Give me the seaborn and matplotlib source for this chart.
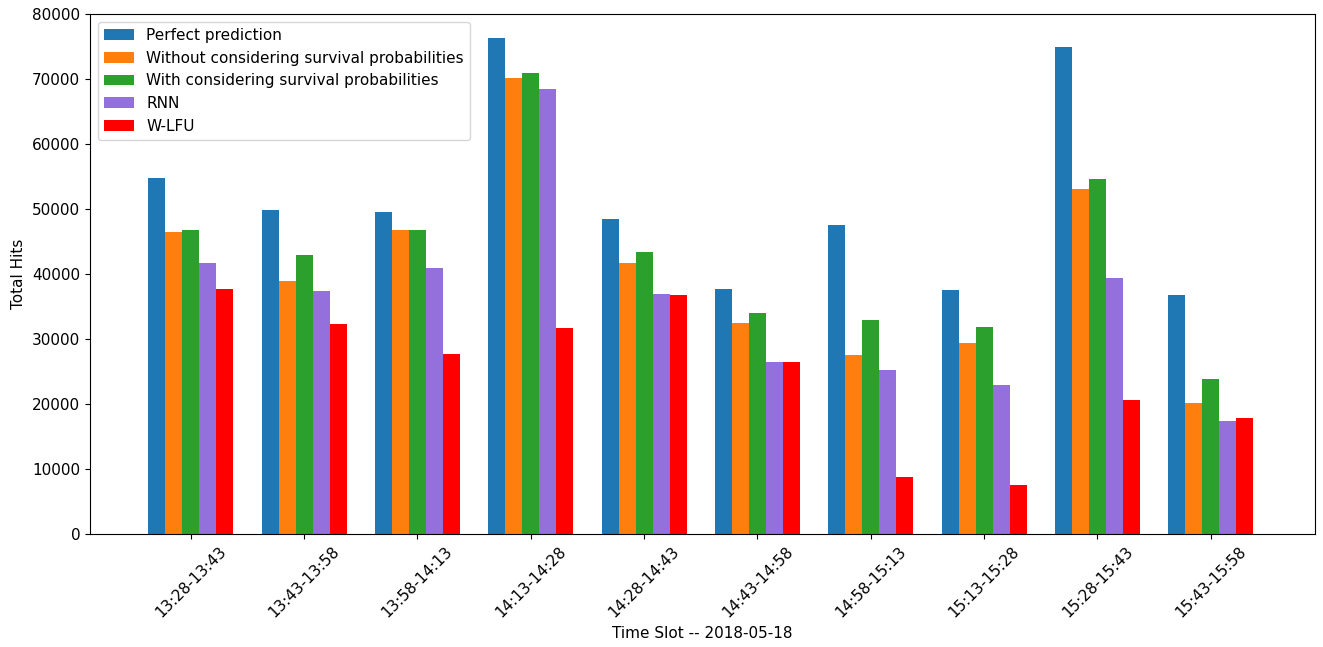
#!/usr/bin/env python3
import matplotlib
matplotlib.use('Agg')
import matplotlib.pyplot as plt
import pandas as pd
import seaborn as sns

plt.rcParams['font.size'] = 11

slots = ['13:28-13:43', '13:43-13:58', '13:58-14:13', '14:13-14:28', '14:28-14:43',
         '14:43-14:58', '14:58-15:13', '15:13-15:28', '15:28-15:43', '15:43-15:58']
methods = ['Perfect prediction',
           'Without considering survival probabilities',
           'With considering survival probabilities',
           'RNN',
           'W-LFU']

perfect = [54800, 49800, 49500, 76300, 48500, 37700, 47500, 37500, 74900, 36800]
without_surv = [46400, 38900, 46800, 70200, 41700, 32500, 27500, 29400, 53100, 20200]
with_surv = [46800, 42900, 46800, 70900, 43400, 34000, 32900, 31800, 54600, 23800]
rnn = [41700, 37400, 40900, 68500, 36900, 26500, 25200, 22900, 39400, 17400]
wlfu = [37700, 32300, 27700, 31700, 36800, 26500, 8800, 7500, 20600, 17800]

colors = ['#1f77b4', '#ff7f0e', '#2ca02c', '#9370db', '#ff0000']

series = [perfect, without_surv, with_surv, rnn, wlfu]
df = pd.DataFrame({
    'slot': slots * len(methods),
    'method': [m for m in methods for _ in slots],
    'hits': [v for s in series for v in s],
})

fig = plt.figure(figsize=(13.23, 6.47), dpi=100)
ax = fig.add_axes([0.068, 0.175, 0.926, 0.803])
sns.barplot(data=df, x='slot', y='hits', hue='method', hue_order=methods,
            order=slots, palette=colors, saturation=1, width=0.75,
            linewidth=0, errorbar=None, ax=ax)

ax.set_xlim(-0.89, 9.92)
ax.set_ylim(0, 80000)
ax.set_yticks(range(0, 80001, 10000))
ax.tick_params(axis='x', labelrotation=45)
ax.set_xlabel('Time Slot -- 2018-05-18')
ax.set_ylabel('Total Hits')
ax.legend(loc='upper left', title=None, fontsize=11)

fig.savefig('out.png', dpi=100)
